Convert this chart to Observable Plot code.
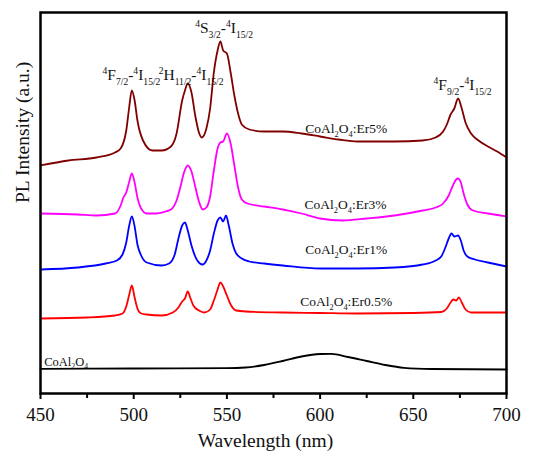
<!DOCTYPE html>
<html><head><meta charset="utf-8">
<script src="https://cdn.jsdelivr.net/npm/d3@7"></script>
<script src="https://cdn.jsdelivr.net/npm/@observablehq/plot@0.6"></script>
<style>body{margin:0;background:#fff}svg{display:block}svg, svg text, svg tspan{font-family:"Liberation Serif",serif !important;}</style>
</head><body><div id="chart"></div>
<script>
// Wavelength (nm) / PL intensity (a.u., offset-stacked as in the figure)
const wlEr5  = [450,465,480,490,493,496,497.5,499,500.5,502,505,510,515,520,523,526,527.5,529,531,533,535,536.5,539,541,543,545,546.5,548,550,552,554,556,558,562,570,580,590,600,610,620,640,655,662,666,668,670,672,674,676,678,681,685,690,695,700];
const intEr5 = [228,233,236,241,245,263,285,303,293,273,253,243,243,247,260,293,303,310,301,278,261,256,265,285,321,343,352,343,340,321,298,280,269,264,262,262,260,257,254,252,252,253,256,262,269,279,285,295,285,271,260,253,247,242,236];

const wlEr3  = [450,470,480,490,493,494.5,496,497.5,499,500.5,502,504,507,512,517,520,523,525,527,529,531,533,535,537,539,541,543,545,546.5,548,550,552,554,556,558,561,570,580,590,600,612,625,640,655,662,666,669,671,673,674,675.5,677,679,682,690,700];
const intEr3 = [180,179,178,180,188,196,201,211,220,211,196,185,180,180,182,184,193,206,221,228,222,207,192,184,186,197,223,245,251,252,260,250,228,206,194,190,187,184,180,175,173,175,178,183,186,190,198,207,214,215,211,200,189,183,180,177];

const wlEr1  = [450,470,485,491,494,496,497.5,499,500.5,502,504,507,515,519,522,524,526,527.5,529,531,533,535.5,537,539,541,543,545,546.5,548,549.5,551,553,555,558,562,570,580,600,620,640,655,662,665,667,669,670.5,672,674,675.5,677,679,683,690,700];
const intEr1 = [124,126,130,133,139,151,167,177,167,149,138,131,128,130,139,155,168,171,163,148,137,130,129,133,143,160,173,176,172,178,168,150,140,135,132,130,128,125,125,126,129,133,137,145,155,160,157,158,153,143,137,134,131,127];

const wlEr05  = [450,475,490,494,496,497.5,499,500.5,502,504,507,515,521,524,526,527.5,529,530.5,532,535,538,541,543,545,546.5,548,550,552,555,560,580,600,620,650,665,668,670,671.5,673,674.5,676,678,681,690,700];
const intEr05 = [75,76,78,80,87,98,108,96,85,80,79,78,81,86,92,95,102,95,88,83,81,84,93,104,111,107,98,89,83,82,81,80.5,80,80.5,81.5,85,91,94,93,96,91,84,81,81,81];

const wlHost  = [450,500,550,560,570,580,590,600,606,615,625,635,645,660,700];
const intHost = [24.7,25,25.3,26,28.5,32.5,37,39.5,39.7,36.5,32.5,28.5,25.7,24.5,24];

const seriesNames  = ["Er5%","Er3%","Er1%","Er0.5%","host"];
const seriesColors = ["#800000","#ff00ff","#0000ff","#ff0000","#000000"];

const xMajorTicks = [450,500,550,600,650,700];
const xMinorTicks = [475,525,575,625,675];

// curve labels (markup: _x subscript, ^x superscript)
const curveLabelText = ["CoAl_2O_4:Er5%","CoAl_2O_4:Er3%","CoAl_2O_4:Er1%","CoAl_2O_4:Er0.5%"];
const curveLabelWl   = [614,613.6,614,614];
const curveLabelInt  = [265,189,144,92];
const hostLabelText = ["CoAl_2O_4"];
const hostLabelWl   = [452];
const hostLabelInt  = [32];

const peakLabelText = ["^4F_{7/2}-^4I_{15/2}","^2H_{11/2}-^4I_{15/2}","^4S_{3/2}-^4I_{15/2}","^4F_{9/2}-^4I_{15/2}"];
const peakLabelWl   = [498.8,530.8,548.5,676.4];
const peakLabelInt  = [318,318,365,308];

const xLabel = "Wavelength (nm)";
const yLabel = "PL Intensity (a.u.)";

const FONT = "Liberation Serif, serif";

// build tables
const toRows = (wl, v) => wl.map((w, i) => ({wl: w, v: v[i]}));
const seriesData = [toRows(wlEr5,intEr5), toRows(wlEr3,intEr3), toRows(wlEr1,intEr1), toRows(wlEr05,intEr05), toRows(wlHost,intHost)];
const labelsRows = (t, w, v) => t.map((s, i) => ({t: s, wl: w[i], v: v[i]}));

function parseMarkup(s) {
  const segs = []; let i = 0;
  while (i < s.length) {
    const c = s[i];
    if (c === "^" || c === "_") {
      let txt;
      if (s[i+1] === "{") { const j = s.indexOf("}", i+2); txt = s.slice(i+2, j); i = j+1; }
      else { txt = s[i+1]; i += 2; }
      segs.push({type: c === "^" ? "sup" : "sub", txt});
    } else {
      let j = i; while (j < s.length && s[j] !== "^" && s[j] !== "_") j++;
      segs.push({type: "n", txt: s.slice(i, j)}); i = j;
    }
  }
  return segs;
}
function richRender(fs) {
  return function(index, scales, values, dimensions, context, next) {
    const g = next(index, scales, values, dimensions, context);
    g.querySelectorAll("text").forEach(t => {
      const s = t.textContent; t.textContent = "";
      let cur = 0;
      for (const seg of parseMarkup(s)) {
        const ts = document.createElementNS("http://www.w3.org/2000/svg", "tspan");
        const target = seg.type === "sup" ? -0.42*fs : seg.type === "sub" ? 0.3*fs : 0;
        ts.setAttribute("dy", (target - cur).toFixed(2));
        cur = target;
        if (seg.type !== "n") ts.setAttribute("font-size", (0.62*fs).toFixed(2));
        ts.textContent = seg.txt;
        t.appendChild(ts);
      }
    });
    return g;
  };
}

const marks = [];
seriesData.forEach((rows, k) => {
  marks.push(Plot.line(rows, {x: "wl", y: "v", stroke: seriesColors[k], strokeWidth: 1.8, curve: "monotone-x"}));
});
marks.push(
  Plot.text(labelsRows(curveLabelText, curveLabelWl, curveLabelInt), {x: "wl", y: "v", text: "t", fontSize: 13.5, fontFamily: FONT, textAnchor: "middle", fill: "#111", render: richRender(13.5)}),
  Plot.text(labelsRows(hostLabelText, hostLabelWl, hostLabelInt), {x: "wl", y: "v", text: "t", fontSize: 12.5, fontFamily: FONT, textAnchor: "start", fill: "#111", render: richRender(12.5)}),
  Plot.text(labelsRows(peakLabelText, peakLabelWl, peakLabelInt), {x: "wl", y: "v", text: "t", fontSize: 15.5, fontFamily: FONT, textAnchor: "middle", fill: "#111", render: richRender(15.5)}),
  Plot.axisX({ticks: xMinorTicks, tickSize: 5, tickFormat: () => "", label: null, strokeWidth: 2}),
  Plot.axisX({ticks: xMajorTicks, tickSize: 6, tickPadding: 8, fontSize: 19, fontFamily: FONT, label: null, strokeWidth: 2, tickFormat: d => String(d), fill: "#111"}),
  Plot.frame({stroke: "#000", strokeWidth: 2.5}),
  Plot.text([xLabel], {frameAnchor: "bottom", dy: 53, dx: -8, fontSize: 19.5, fontFamily: FONT, fill: "#111"}),
  Plot.text([yLabel], {frameAnchor: "left", dx: -18, rotate: -90, fontSize: 19.5, fontFamily: FONT, fill: "#111"})
);

const chart = Plot.plot({
  width: 541, height: 458,
  marginLeft: 40, marginRight: 35, marginTop: 12, marginBottom: 65,
  style: {fontFamily: FONT, background: "#fff", overflow: "visible"},
  x: {domain: [450, 700]},
  y: {domain: [0, 381], axis: null},
  marks
});
document.getElementById("chart").appendChild(chart);
</script>
</body></html>
